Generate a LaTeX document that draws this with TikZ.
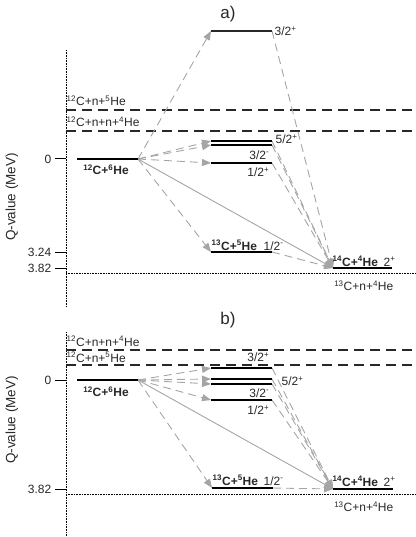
\documentclass[tikz,border=0pt]{standalone}
\usepackage{fontspec}
\setmainfont{Liberation Sans}
\usetikzlibrary{arrows.meta}
\definecolor{mygray}{RGB}{165,165,165}
\definecolor{mydark}{RGB}{40,40,40}
\tikzset{
  lvl/.style={line width=1.1pt, color=black},
  thresh/.style={dash pattern=on 10pt off 6pt, line width=1.2pt, color=mydark},
  floorline/.style={dash pattern=on 0.8pt off 0.8pt, line width=0.9pt},
  qtick/.style={line width=1pt},
  trans/.style={-{Triangle[length=9pt,width=7pt]}, dash pattern=on 8pt off 5pt,
    line width=0.9pt, color=mygray},
  direct/.style={-{Triangle[length=9pt,width=7pt]}, line width=0.9pt, color=mygray},
  lbl/.style={font=\fontsize{12}{14}\selectfont, inner sep=0.5pt, text=mydark},
  blbl/.style={font=\fontsize{12}{14}\selectfont\bfseries, inner sep=0.5pt, text=mydark},
  ttl/.style={font=\fontsize{17}{19}\selectfont, inner sep=0.5pt, text=mydark}
}
\newcommand{\nuc}[2]{\textsuperscript{#1}#2}

\begin{document}
\begin{tikzpicture}[x=1pt, y={(0pt,-1pt)}]
  \useasboundingbox (0,0) rectangle (415,537);

  % ---------------- a) ----------------
  \node[ttl] (titA) at (228,14) {a)};
  \draw[floorline] (66,50) -- (66,307);
  \node[lbl, rotate=90, font=\fontsize{13.5}{15}\selectfont] (qA) at (12,197) {Q-value (MeV)};

  \draw[qtick] (55,159) -- (66,159);
  \draw[qtick] (55,252) -- (66,252);
  \draw[qtick] (55,268) -- (66,268);
  \node[lbl, anchor=east] (a0) at (52,159) {0};
  \node[lbl, anchor=east] (a324) at (52,252) {3.24};
  \node[lbl, anchor=east] (a382) at (52,268) {3.82};

  \draw[thresh] (66,110) -- (415,110);
  \draw[thresh] (66,131) -- (415,131);
  \draw[floorline] (66,273) -- (415,273);
  \node[lbl, anchor=base west] (aThrA) at (66,106) {\nuc{12}{C}+n+\nuc{5}{He}};
  \node[lbl, anchor=base west] (aThrB) at (66,127) {\nuc{12}{C}+n+n+\nuc{4}{He}};
  \node[lbl, anchor=east] (aThrC) at (394,286) {\nuc{13}{C}+n+\nuc{4}{He}};

  \coordinate (aGsL) at (77,159);   \coordinate (aGsR) at (138,159);
  \coordinate (aTpL) at (211,31);   \coordinate (aTpR) at (272,31);
  \coordinate (aFpL) at (211,141);  \coordinate (aFpR) at (272,141);
  \coordinate (aTmL) at (211,145);  \coordinate (aTmR) at (272,145);
  \coordinate (aOpL) at (211,163);  \coordinate (aOpR) at (272,163);
  \coordinate (aCfL) at (211,252);  \coordinate (aCfR) at (272,252);
  \coordinate (aCoL) at (333,268);  \coordinate (aCoR) at (392,268);

  \draw[trans] (aGsR) -- (aTpL);
  \draw[trans] (aGsR) -- (aFpL);
  \draw[trans] (aGsR) -- (aTmL);
  \draw[trans] (aGsR) -- (aOpL);
  \draw[trans] (aGsR) -- (aCfL);
  \draw[direct] (aGsR) -- (aCoL);
  \draw[trans] (aTpR) -- (aCoL);
  \draw[trans] (aFpR) -- (aCoL);
  \draw[trans] (aTmR) -- (aCoL);
  \draw[trans] (aOpR) -- (aCoL);
  \draw[trans] (aCfR) -- (aCoL);

  \draw[lvl] (aGsL) -- (aGsR);
  \draw[lvl, color=mydark, line width=1.5pt] (aTpL) -- (aTpR);
  \draw[lvl] (aFpL) -- (aFpR);
  \draw[lvl] (aTmL) -- (aTmR);
  \draw[lvl] (aOpL) -- (aOpR);
  \draw[lvl] (aCfL) -- (aCfR);
  \draw[lvl] (aCoL) -- (aCoR);

  \node[blbl] (aGsT) at (106,170) {\nuc{12}{C}+\nuc{6}{He}};
  \node[lbl, anchor=west] (aTpT) at (274,31) {3/2\textsuperscript{+}};
  \node[lbl, anchor=west] (aFpT) at (275,139) {5/2\textsuperscript{+}};
  \node[lbl, anchor=east] (aTmT) at (270,155) {3/2\textsuperscript{-}};
  \node[lbl, anchor=east] (aOpT) at (270,172) {1/2\textsuperscript{+}};
  \node[blbl, anchor=base west] (aCfT) at (211,250) {\nuc{13}{C}+\nuc{5}{He}};
  \node[lbl, anchor=base west] (aCfJ) at (263,250) {1/2\textsuperscript{-}};
  \node[blbl, anchor=base west] (aCoT) at (332,266) {\nuc{14}{C}+\nuc{4}{He}};
  \node[lbl, anchor=base west] (aCoJ) at (383,266) {2\textsuperscript{+}};

  % ---------------- b) ----------------
  \node[ttl] (titB) at (228,320) {b)};
  \draw[floorline] (66,332) -- (66,537);
  \node[lbl, rotate=90, font=\fontsize{13.5}{15}\selectfont] (qB) at (12,420) {Q-value (MeV)};

  \draw[qtick] (55,380) -- (66,380);
  \draw[qtick] (55,489) -- (66,489);
  \node[lbl, anchor=east] (b0) at (52,380) {0};
  \node[lbl, anchor=east] (b382) at (52,489) {3.82};

  \draw[thresh] (66,350) -- (415,350);
  \draw[thresh] (66,365) -- (415,365);
  \draw[floorline] (66,494) -- (415,494);
  \node[lbl, anchor=base west] (bThrB) at (66,346) {\nuc{12}{C}+n+n+\nuc{4}{He}};
  \node[lbl, anchor=base west] (bThrA) at (66,362) {\nuc{12}{C}+n+\nuc{5}{He}};
  \node[lbl, anchor=east] (bThrC) at (394,507) {\nuc{13}{C}+n+\nuc{4}{He}};

  \coordinate (bGsL) at (77,380);   \coordinate (bGsR) at (138,380);
  \coordinate (bTpL) at (211,368);  \coordinate (bTpR) at (272,368);
  \coordinate (bFpL) at (211,379);  \coordinate (bFpR) at (272,379);
  \coordinate (bTmL) at (211,384);  \coordinate (bTmR) at (272,384);
  \coordinate (bOpL) at (211,400);  \coordinate (bOpR) at (272,400);
  \coordinate (bCfL) at (212,488);  \coordinate (bCfR) at (273,488);
  \coordinate (bCoL) at (333,489);  \coordinate (bCoR) at (393,489);

  \draw[trans] (bGsR) -- (bTpL);
  \draw[trans] (bGsR) -- (bFpL);
  \draw[trans] (bGsR) -- (bTmL);
  \draw[trans] (bGsR) -- (bOpL);
  \draw[trans] (bGsR) -- (bCfL);
  \draw[direct] (bGsR) -- (bCoL);
  \draw[trans] (bTpR) -- (bCoL);
  \draw[trans] (bFpR) -- (bCoL);
  \draw[trans] (bTmR) -- (bCoL);
  \draw[trans] (bOpR) -- (bCoL);
  \draw[trans] (bCfR) -- (bCoL);

  \draw[lvl] (bGsL) -- (bGsR);
  \draw[lvl] (bTpL) -- (bTpR);
  \draw[lvl] (bFpL) -- (bFpR);
  \draw[lvl] (bTmL) -- (bTmR);
  \draw[lvl] (bOpL) -- (bOpR);
  \draw[lvl] (bCfL) -- (bCfR);
  \draw[lvl] (bCoL) -- (bCoR);

  \node[blbl] (bGsT) at (106,392) {\nuc{12}{C}+\nuc{6}{He}};
  \node[lbl, anchor=east] (bTpT) at (270,357) {3/2\textsuperscript{+}};
  \node[lbl, anchor=west] (bFpT) at (281,381) {5/2\textsuperscript{+}};
  \node[lbl, anchor=east] (bTmT) at (270,393) {3/2\textsuperscript{-}};
  \node[lbl, anchor=east] (bOpT) at (270,410) {1/2\textsuperscript{+}};
  \node[blbl, anchor=base west] (bCfT) at (212,485) {\nuc{13}{C}+\nuc{5}{He}};
  \node[lbl, anchor=base west] (bCfJ) at (263,485) {1/2\textsuperscript{-}};
  \node[blbl, anchor=base west] (bCoT) at (332,486) {\nuc{14}{C}+\nuc{4}{He}};
  \node[lbl, anchor=base west] (bCoJ) at (383,486) {2\textsuperscript{+}};
\end{tikzpicture}
\end{document}
